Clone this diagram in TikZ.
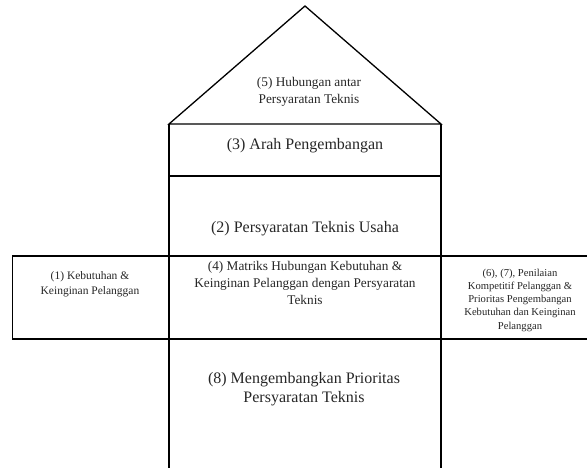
\documentclass[tikz,border=0pt]{standalone}
\usepackage{fontspec}
\setmainfont{Liberation Serif}
\begin{document}
\begin{tikzpicture}[x=1pt,y=-1pt,
  frame/.style={line width=1.3pt,line join=miter},
  lbl/.style={inner sep=0pt,align=center,text=black!85},
  big/.style={lbl,font=\fontsize{16}{19.5}\selectfont},
  mid/.style={lbl,font=\fontsize{13.3}{17}\selectfont},
  small/.style={lbl,font=\fontsize{11.5}{15.6}\selectfont},
  tiny/.style={lbl,font=\fontsize{10.6}{13.2}\selectfont}]
\useasboundingbox (0,0) rectangle (587,468);
\clip (0,0) rectangle (587,468);
% coordinates
\coordinate (apex) at (305,6);
\coordinate (rl) at (169,124);
\coordinate (rr) at (441,124);
\coordinate (l2) at (169,176);
\coordinate (r2) at (441,176);
\coordinate (l3) at (169,256);
\coordinate (r3) at (441,256);
\coordinate (l4) at (169,339);
\coordinate (r4) at (441,339);
\coordinate (lb) at (169,472);
\coordinate (rb) at (441,472);
\coordinate (bl1) at (12.5,256);
\coordinate (bl2) at (12.5,339);
\coordinate (br1) at (600,256);
\coordinate (br2) at (600,339);
% roof
\draw[frame] (rl) -- (apex) -- (rr) -- cycle;
% column
\draw[frame] (lb) -- (rl);
\draw[frame] (rb) -- (rr);
\draw[frame] (l2) -- (r2);
\draw[frame] (l3) -- (r3);
\draw[frame] (l4) -- (r4);
% left box
\draw[frame] (l3) -- (bl1) -- (bl2) -- (l4);
% right box
\draw[frame] (r3) -- (br1) -- (br2) -- (r4);
% texts
\node[mid,anchor=north] (t5) at (309,77.5) {(5) Hubungan antar\\Persyaratan Teknis};
\node[big,anchor=base] (t3) at (305,150) {(3) Arah Pengembangan};
\node[big,anchor=base] (t2) at (305,233) {(2) Persyaratan Teknis Usaha};
\node[mid,anchor=north] (t4) at (305,260.8) {(4) Matriks Hubungan Kebutuhan \&\\Keinginan Pelanggan dengan Persyaratan\\Teknis};
\node[small,anchor=north] (t1) at (90,271) {(1) Kebutuhan \&\\Keinginan Pelanggan};
\node[tiny,anchor=north] (t67) at (520,268.7) {(6), (7), Penilaian\\Kompetitif Pelanggan \&\\Prioritas Pengembangan\\Kebutuhan dan Keinginan\\Pelanggan};
\node[big,anchor=north] (t8) at (304,372) {(8) Mengembangkan Prioritas\\Persyaratan Teknis};
\end{tikzpicture}
\end{document}
